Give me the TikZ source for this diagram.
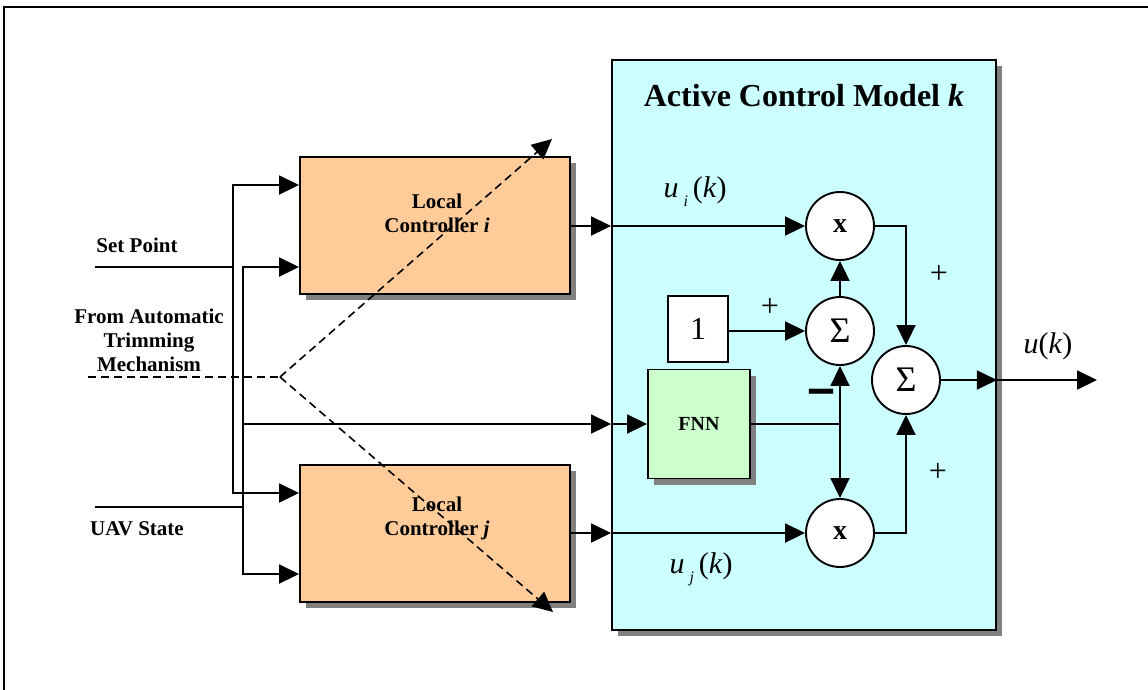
\documentclass[tikz,border=0pt]{standalone}
\usepackage{fontspec}
\setmainfont{Liberation Serif}
\usetikzlibrary{arrows.meta,shadows,calc}
\definecolor{peach}{HTML}{FFCC99}
\definecolor{cyanbg}{HTML}{CCFFFF}
\definecolor{greenbg}{HTML}{CCFFCC}
\definecolor{shadowgray}{HTML}{808080}
\begin{document}
\begin{tikzpicture}[x=1pt,y=-1pt,
  ln/.style={line width=1.9pt},
  arr/.style={line width=1.9pt,-{Triangle[length=20pt,width=19pt]}},
  dsh/.style={line width=1.6pt,dash pattern=on 8pt off 5pt},
  dsharr/.style={dsh,-{Triangle[length=20pt,width=19pt]}},
  box/.style={draw,line width=1.9pt,rectangle,inner sep=0pt,
    drop shadow={shadow xshift=6pt,shadow yshift=-6pt,fill=shadowgray,opacity=1}},
  plainbox/.style={draw,line width=1.9pt,rectangle,inner sep=0pt,fill=white},
  op/.style={draw,line width=1.9pt,circle,fill=white,minimum size=68pt,inner sep=0pt},
  lbl/.style={font=\bfseries\fontsize{21}{24}\selectfont,align=center},
  sgn/.style={font=\fontsize{32}{32}\selectfont},
  mth/.style={font=\fontsize{30}{32}\selectfont},
]
\useasboundingbox (0,0) rectangle (1148,689);
% outer frame
\draw[line width=2.2pt] (4,700) -- (4,7) -- (1160,7);

% main blocks
\node[box,fill=cyanbg,minimum width=384pt,minimum height=570pt] (acm) at (804,345) {};
\node[anchor=base,font=\bfseries\fontsize{32}{32}\selectfont] (title) at (804,106) {Active Control Model \textit{k}};
\node[box,fill=peach,minimum width=270pt,minimum height=137pt] (lci) at (435,225.5) {};
\node[box,fill=peach,minimum width=270pt,minimum height=137pt] (lcj) at (435,533.5) {};
\node[lbl] (lcit) at (437,213) {Local\\Controller \textit{i}};
\node[lbl] (lcjt) at (437,518) {Local\\Controller \textit{j}};
\node[box,fill=greenbg,minimum width=102pt,minimum height=109pt,font=\bfseries\fontsize{20}{20}\selectfont] (fnn) at (699,424) {FNN};
\node[plainbox,minimum width=60pt,minimum height=66pt,font=\fontsize{32}{32}\selectfont] (one) at (698,329) {1};

\node[op,font=\bfseries\fontsize{28}{28}\selectfont] (m1) at (840,226) {x};
\node[op,font=\fontsize{36}{36}\selectfont] (s1) at (840,331) {Σ};
\node[op,font=\fontsize{36}{36}\selectfont] (s2) at (906,380) {Σ};
\node[op,font=\bfseries\fontsize{28}{28}\selectfont] (m2) at (840,533) {x};

% left labels
\node[lbl,anchor=base] (sptxt) at (137,252) {Set Point};
\node[lbl,anchor=base] (uavtxt) at (137,535) {UAV State};
\node[lbl] (amtxt) at (149,340) {From Automatic\\Trimming\\Mechanism};

% signal labels
\node[mth,anchor=base west] (uil) at (660,197) {\textit{u}\,\raisebox{-0.3em}{\fontsize{16}{16}\selectfont\textit{i}}\,(\textit{k})};
\node[mth,anchor=base west] (ujl) at (666,573) {\textit{u}\,\raisebox{-0.3em}{\fontsize{16}{16}\selectfont\textit{j}}\,(\textit{k})};
\node[mth,anchor=base west] (ul) at (1020,353) {\textit{u}(\textit{k})};
\node[sgn] (p1) at (770,307) {+};
\node[sgn] (p2) at (939,274) {+};
\node[sgn] (p3) at (938,472) {+};
\node (mn) at (821,399) {\scalebox{1}[3]{\bfseries\fontsize{24}{24}\selectfont —}};

% coordinates
\coordinate (yA) at (0,185);
\coordinate (yB) at (0,267);
\coordinate (yC) at (0,493);
\coordinate (yD) at (0,574);
\coordinate (sp0) at (95,267);
\coordinate (spv) at (233,267);
\coordinate (uav0) at (95,507);
\coordinate (uavv) at (243,507);
\coordinate (out) at (1097,380);
\coordinate (tin) at (88,377);
\coordinate (tv) at (280,377);
\coordinate (tu) at (552,139);
\coordinate (td) at (553,612);

% set point
\draw[ln] (sp0) -- (spv);
\draw[arr] (spv) |- (lci.west |- yA);
\draw[arr] (spv) |- (lcj.west |- yC);
% UAV state
\draw[ln] (uav0) -- (uavv);
\draw[arr] (uavv) |- (lci.west |- yB);
\draw[arr] (uavv) |- (lcj.west |- yD);
\draw[arr] (uavv) |- (acm.west |- fnn.west);
\draw[arr] (acm.west |- fnn.west) -- (fnn.west);
% controllers to multipliers
\draw[arr] (lci.east |- m1) -- (acm.west |- m1);
\draw[arr] (acm.west |- m1) -- (m1.west);
\draw[arr] (lcj.east |- m2) -- (acm.west |- m2);
\draw[arr] (acm.west |- m2) -- (m2.west);
% inner
\draw[arr] (one.east |- s1) -- (s1.west);
\draw[arr] (s1.north) -- (m1.south);
\draw[ln] (fnn.east) -- (fnn.east -| s1);
\draw[arr] (fnn.east -| s1) -- (s1.south);
\draw[arr] (fnn.east -| s1) -- (m2.north);
\draw[arr] (m1.east) -| (s2.north);
\draw[arr] (m2.east) -| (s2.south);
\draw[arr] (s2.east) -- (acm.east |- s2);
\draw[arr] (acm.east |- s2) -- (out);
% trimming (dashed)
\draw[dsh] (tin) -- (tv);
\draw[dsharr] (tv) -- (tu);
\draw[dsharr] (tv) -- (td);
\end{tikzpicture}
\end{document}
